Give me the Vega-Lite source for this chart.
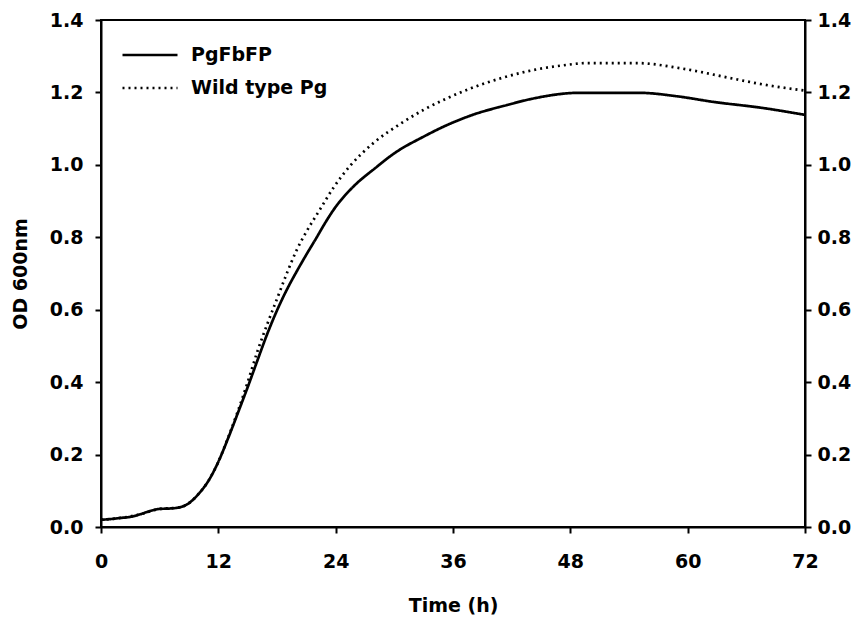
{
  "$schema": "https://vega.github.io/schema/vega-lite/v6.json",
  "width": 704,
  "height": 507,
  "autosize": "none",
  "padding": {"left": 101, "top": 20, "right": 55, "bottom": 93},
  "background": "white",
  "config": {
    "view": {"stroke": "black", "strokeWidth": 2},
    "font": "DejaVu Sans",
    "axis": {
      "grid": false,
      "domainColor": "black",
      "domainWidth": 2,
      "tickColor": "black",
      "tickWidth": 2,
      "tickSize": 6,
      "labelFont": "DejaVu Sans",
      "labelFontWeight": "bold",
      "labelFontSize": 19,
      "labelColor": "black",
      "labelFlush": false,
      "titleFont": "DejaVu Sans",
      "titleFontWeight": "bold",
      "titleFontSize": 19,
      "titleColor": "black"
    }
  },
  "datasets": {
    "curves": [
      {"t": 0, "od": 0.02, "s": "PgFbFP"},
      {"t": 1, "od": 0.022, "s": "PgFbFP"},
      {"t": 2, "od": 0.025, "s": "PgFbFP"},
      {"t": 3, "od": 0.028, "s": "PgFbFP"},
      {"t": 4, "od": 0.035, "s": "PgFbFP"},
      {"t": 5, "od": 0.044, "s": "PgFbFP"},
      {"t": 6, "od": 0.05, "s": "PgFbFP"},
      {"t": 7, "od": 0.051, "s": "PgFbFP"},
      {"t": 8, "od": 0.054, "s": "PgFbFP"},
      {"t": 9, "od": 0.066, "s": "PgFbFP"},
      {"t": 10, "od": 0.092, "s": "PgFbFP"},
      {"t": 11, "od": 0.128, "s": "PgFbFP"},
      {"t": 12, "od": 0.18, "s": "PgFbFP"},
      {"t": 13, "od": 0.245, "s": "PgFbFP"},
      {"t": 14, "od": 0.315, "s": "PgFbFP"},
      {"t": 15, "od": 0.386, "s": "PgFbFP"},
      {"t": 16, "od": 0.46, "s": "PgFbFP"},
      {"t": 17, "od": 0.533, "s": "PgFbFP"},
      {"t": 18, "od": 0.598, "s": "PgFbFP"},
      {"t": 19, "od": 0.655, "s": "PgFbFP"},
      {"t": 20, "od": 0.705, "s": "PgFbFP"},
      {"t": 21, "od": 0.752, "s": "PgFbFP"},
      {"t": 22, "od": 0.797, "s": "PgFbFP"},
      {"t": 23, "od": 0.843, "s": "PgFbFP"},
      {"t": 24, "od": 0.884, "s": "PgFbFP"},
      {"t": 25, "od": 0.917, "s": "PgFbFP"},
      {"t": 26, "od": 0.945, "s": "PgFbFP"},
      {"t": 28, "od": 0.99, "s": "PgFbFP"},
      {"t": 30, "od": 1.032, "s": "PgFbFP"},
      {"t": 33, "od": 1.078, "s": "PgFbFP"},
      {"t": 35.4, "od": 1.11, "s": "PgFbFP"},
      {"t": 38, "od": 1.138, "s": "PgFbFP"},
      {"t": 41.5, "od": 1.165, "s": "PgFbFP"},
      {"t": 44, "od": 1.182, "s": "PgFbFP"},
      {"t": 49, "od": 1.199, "s": "PgFbFP"},
      {"t": 55, "od": 1.199, "s": "PgFbFP"},
      {"t": 59, "od": 1.189, "s": "PgFbFP"},
      {"t": 62.6, "od": 1.174, "s": "PgFbFP"},
      {"t": 67.7, "od": 1.157, "s": "PgFbFP"},
      {"t": 72, "od": 1.138, "s": "PgFbFP"},
      {"t": 0, "od": 0.02, "s": "Wild type Pg"},
      {"t": 2, "od": 0.025, "s": "Wild type Pg"},
      {"t": 4, "od": 0.035, "s": "Wild type Pg"},
      {"t": 6, "od": 0.05, "s": "Wild type Pg"},
      {"t": 8, "od": 0.054, "s": "Wild type Pg"},
      {"t": 9, "od": 0.066, "s": "Wild type Pg"},
      {"t": 10, "od": 0.092, "s": "Wild type Pg"},
      {"t": 11, "od": 0.128, "s": "Wild type Pg"},
      {"t": 12, "od": 0.18, "s": "Wild type Pg"},
      {"t": 13, "od": 0.247, "s": "Wild type Pg"},
      {"t": 14, "od": 0.32, "s": "Wild type Pg"},
      {"t": 15, "od": 0.4, "s": "Wild type Pg"},
      {"t": 16, "od": 0.485, "s": "Wild type Pg"},
      {"t": 17, "od": 0.56, "s": "Wild type Pg"},
      {"t": 18, "od": 0.63, "s": "Wild type Pg"},
      {"t": 19, "od": 0.7, "s": "Wild type Pg"},
      {"t": 20, "od": 0.764, "s": "Wild type Pg"},
      {"t": 21, "od": 0.815, "s": "Wild type Pg"},
      {"t": 22.4, "od": 0.877, "s": "Wild type Pg"},
      {"t": 23.8, "od": 0.938, "s": "Wild type Pg"},
      {"t": 25.5, "od": 0.998, "s": "Wild type Pg"},
      {"t": 27.85, "od": 1.06, "s": "Wild type Pg"},
      {"t": 30.6, "od": 1.113, "s": "Wild type Pg"},
      {"t": 33, "od": 1.152, "s": "Wild type Pg"},
      {"t": 35.4, "od": 1.184, "s": "Wild type Pg"},
      {"t": 37.7, "od": 1.21, "s": "Wild type Pg"},
      {"t": 41, "od": 1.24, "s": "Wild type Pg"},
      {"t": 43.9, "od": 1.26, "s": "Wild type Pg"},
      {"t": 47.3, "od": 1.275, "s": "Wild type Pg"},
      {"t": 49.7, "od": 1.281, "s": "Wild type Pg"},
      {"t": 54.8, "od": 1.281, "s": "Wild type Pg"},
      {"t": 59.2, "od": 1.267, "s": "Wild type Pg"},
      {"t": 64.3, "od": 1.24, "s": "Wild type Pg"},
      {"t": 67.7, "od": 1.222, "s": "Wild type Pg"},
      {"t": 72, "od": 1.205, "s": "Wild type Pg"}
    ]
  },
  "data": {"name": "curves"},
  "layer": [
    {
      "mark": {"type": "line", "color": "black", "strokeWidth": 2.7, "interpolate": "monotone"},
      "encoding": {
        "x": {
          "field": "t", "type": "quantitative",
          "scale": {"domain": [0, 72], "nice": false},
          "axis": {"values": [0, 12, 24, 36, 48, 60, 72], "title": "Time (h)", "labelPadding": 19, "titlePadding": 25}
        },
        "y": {
          "field": "od", "type": "quantitative",
          "scale": {"domain": [0, 1.4], "nice": false},
          "axis": {"orient": "left", "values": [0, 0.2, 0.4, 0.6, 0.8, 1.0, 1.2, 1.4], "format": ".1f", "title": "OD 600nm", "labelPadding": 12, "titlePadding": 19}
        },
        "strokeDash": {
          "field": "s", "type": "nominal",
          "scale": {"domain": ["PgFbFP", "Wild type Pg"], "range": [[1, 0], [2, 4]]},
          "legend": {
            "title": null,
            "orient": "none",
            "legendX": 20,
            "legendY": 20,
            "symbolType": "stroke",
            "symbolSize": 3025,
            "symbolStrokeColor": "black",
            "symbolStrokeWidth": 2.5,
            "labelFont": "DejaVu Sans",
            "labelFontWeight": "bold",
            "labelFontSize": 19,
            "labelColor": "black",
            "labelOffset": 12,
            "clipHeight": 30,
            "rowPadding": 3
          }
        }
      }
    },
    {
      "mark": {"type": "line", "opacity": 0},
      "encoding": {
        "x": {"field": "t", "type": "quantitative"},
        "y": {
          "field": "od", "type": "quantitative",
          "axis": {"orient": "right", "values": [0, 0.2, 0.4, 0.6, 0.8, 1.0, 1.2, 1.4], "format": ".1f", "title": null, "labelPadding": 6}
        },
        "detail": {"field": "s"}
      }
    }
  ],
  "resolve": {"axis": {"y": "independent"}}
}
